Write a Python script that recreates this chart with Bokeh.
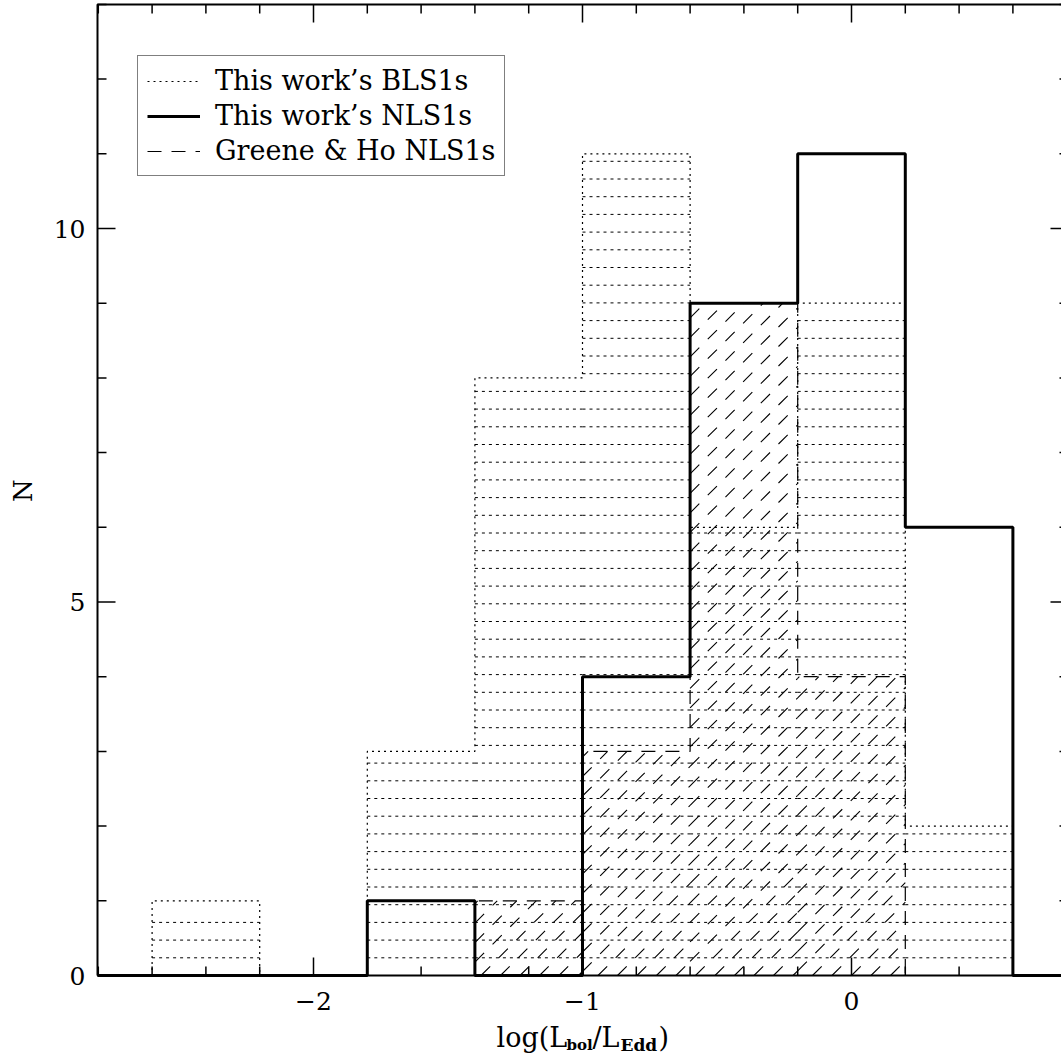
import numpy as np
from bokeh.plotting import figure
from bokeh.models import Range1d, Legend, LegendItem
from bokeh.core.properties import value
from bokeh.embed import file_html
from bokeh.resources import INLINE

# ---------------- data ----------------
bin_edges = [-2.6, -2.2, -1.8, -1.4, -1.0, -0.6, -0.2, 0.2, 0.6]
bls1_counts = [1, 0, 3, 8, 11, 6, 9, 2]        # This work's BLS1s (dotted)
nls1_counts = [0, 0, 1, 0, 4, 9, 11, 6]        # This work's NLS1s (solid)
gh_nls1_counts = [0, 0, 0, 1, 3, 9, 4, 0]      # Greene & Ho NLS1s (dashed)
series_names = ["This work\u2019s BLS1s", "This work\u2019s NLS1s", "Greene & Ho NLS1s"]

x_ticks = [-2, -1, 0]
x_tick_labels = ["\u22122", "\u22121", "0"]
y_ticks = [0, 5, 10]
y_tick_labels = ["0", "5", "10"]
x_label_parts = ["log(L", "bol", "/L", "Edd", ")"]
y_label = "N"

# ---------------- layout constants (pixels of the 1061 x 1059 page) ----------------
W, H = 1061, 1059
BOX_L, BOX_T, BOX_B, BOX_R = 97, 4, 975, 1068   # plotting box; right side lies just outside the page
PX_X0, PX_PER_X = 313.0, 269.0                  # pixel of x = -2, pixels per unit
PX_PER_Y = 74.7
TXT_DY = 10                                     # baseline correction of text glyphs (px)

FONT = "DejaVu Serif"


def px_to_x(px):
    return -2.0 + (px - PX_X0) / PX_PER_X


def px_to_y(py):
    return (BOX_B - py) / PX_PER_Y


# the frame covers the whole page so that every text can be drawn inside it
X_LO, X_HI = px_to_x(0), px_to_x(W)
Y_LO, Y_HI = px_to_y(H), px_to_y(0)
XB_L, XB_R = px_to_x(BOX_L), px_to_x(BOX_R)
YB_T = px_to_y(BOX_T)


# ---------------- helpers ----------------
def step_path(edges, counts, lo, hi):
    xs = [lo, edges[0]]
    ys = [0, 0]
    for i, c in enumerate(counts):
        xs += [edges[i], edges[i + 1]]
        ys += [c, c]
    xs += [edges[-1], hi]
    ys += [0, 0]
    return xs, ys


H_STEP = 17.7 / PX_PER_Y  # spacing of horizontal hatch lines


def horiz_hatch(edges, counts):
    x0, y0, x1, y1 = [], [], [], []
    for i, c in enumerate(counts):
        if c <= 0:
            continue
        for yy in np.arange(H_STEP, c - 0.06, H_STEP):
            x0.append(edges[i]); x1.append(edges[i + 1])
            y0.append(yy); y1.append(yy)
    return x0, y0, x1, y1


SLOPE = PX_PER_X / PX_PER_Y   # 45 degrees on screen
DX = 19.5 / PX_PER_X          # horizontal spacing of diagonal hatch lines


def diag_hatch(edges, counts):
    x0, y0, x1, y1 = [], [], [], []
    for i, c in enumerate(counts):
        if c <= 0:
            continue
        a, b = edges[i], edges[i + 1]
        start = np.floor((a - c / SLOPE) / DX) * DX
        for cc in np.arange(start, b, DX):
            xs = max(a, cc)
            xe = min(b, cc + c / SLOPE)
            if xe - xs > 1e-6:
                x0.append(xs); y0.append(SLOPE * (xs - cc))
                x1.append(xe); y1.append(SLOPE * (xe - cc))
    return x0, y0, x1, y1


# ---------------- figure ----------------
p = figure(width=W, height=H,
           x_range=Range1d(X_LO, X_HI), y_range=Range1d(Y_LO, Y_HI),
           x_axis_location=None, y_axis_location=None,
           output_backend="svg", toolbar_location=None,
           min_border_left=0, min_border_right=0,
           min_border_top=0, min_border_bottom=0)
p.xgrid.visible = False
p.ygrid.visible = False
p.outline_line_color = None
p.background_fill_color = "white"
p.border_fill_color = "white"

# hatching
hx0, hy0, hx1, hy1 = horiz_hatch(bin_edges, bls1_counts)
p.segment(hx0, hy0, hx1, hy1, line_color="black", line_width=1, line_dash="3 4")
dx0, dy0, dx1, dy1 = diag_hatch(bin_edges, gh_nls1_counts)
p.segment(dx0, dy0, dx1, dy1, line_color="black", line_width=1.1, line_dash="13 12")

# outlines
bx, by = step_path(bin_edges, bls1_counts, XB_L, XB_R)
r_bls1 = p.line(bx, by, line_color="black", line_width=1.2, line_dash="2 4")
gx, gy = step_path(bin_edges, gh_nls1_counts, XB_L, XB_R)
r_gh = p.line(gx, gy, line_color="black", line_width=1.2, line_dash="14 10")

# plotting box (left, top, bottom sides)
p.line([XB_L, XB_L, XB_R], [0, YB_T, YB_T], line_color="black", line_width=2)
p.line([XB_L, XB_R], [0, 0], line_color="black", line_width=2)

nx, ny = step_path(bin_edges, nls1_counts, XB_L, XB_R)
r_nls1 = p.line(nx, ny, line_color="black", line_width=3)

# inward ticks on all four sides
x_minor = [float(v) for v in np.round(np.arange(-2.8, 0.81, 0.2), 1)]
y_minor = list(range(0, 14))
x_minor_only = [v for v in x_minor if v not in x_ticks]
y_minor_only = [v for v in y_minor if v not in y_ticks and v > 0]
tick_kw = dict(length_units="screen", line_color="black", line_width=1.5)
p.ray(x=x_ticks, y=[0] * len(x_ticks), length=18, angle=np.pi / 2, **tick_kw)
p.ray(x=x_minor_only, y=[0] * len(x_minor_only), length=9, angle=np.pi / 2, **tick_kw)
p.ray(x=x_ticks, y=[YB_T] * len(x_ticks), length=18, angle=-np.pi / 2, **tick_kw)
p.ray(x=x_minor_only, y=[YB_T] * len(x_minor_only), length=9, angle=-np.pi / 2, **tick_kw)
p.ray(x=[XB_L] * len(y_ticks), y=y_ticks, length=18, angle=0, **tick_kw)
p.ray(x=[XB_L] * len(y_minor_only), y=y_minor_only, length=9, angle=0, **tick_kw)
p.ray(x=[XB_R] * len(y_ticks), y=y_ticks, length=18, angle=np.pi, **tick_kw)
p.ray(x=[XB_R] * len(y_minor_only), y=y_minor_only, length=9, angle=np.pi, **tick_kw)

# tick labels
p.text(x=x_ticks, y=[px_to_y(1010 - TXT_DY)] * len(x_ticks), text=x_tick_labels,
       text_font=value(FONT), text_font_size="25px", text_color="black",
       text_align="center", text_baseline="alphabetic")
p.text(x=[px_to_x(85)] * len(y_ticks), y=y_ticks, text=y_tick_labels,
       text_font=value(FONT), text_font_size="25px", text_color="black",
       text_align="right", text_baseline="middle")

# axis titles
p.text(x=[px_to_x(22)], y=[px_to_y(490)], text=[y_label], angle=np.pi / 2,
       text_font=value(FONT), text_font_size="26px", text_color="black",
       text_align="center", text_baseline="middle")

lab_x = [496, 566, 592, 620, 658]
lab_y = [1047, 1054, 1047, 1054, 1047]
lab_size = ["27px", "15px", "27px", "17px", "27px"]
lab_style = ["normal", "bold", "normal", "bold", "normal"]
for txt, sx, sy, fs, st in zip(x_label_parts, lab_x, lab_y, lab_size, lab_style):
    p.text(x=[px_to_x(sx)], y=[px_to_y(sy - TXT_DY)], text=[txt],
           text_font=value(FONT), text_font_size=fs, text_font_style=st,
           text_color="black", text_align="left", text_baseline="alphabetic")

# legend
legend = Legend(items=[LegendItem(label=series_names[0], renderers=[r_bls1]),
                       LegendItem(label=series_names[1], renderers=[r_nls1]),
                       LegendItem(label=series_names[2], renderers=[r_gh])],
                location=(137, H - 176), orientation="vertical")
legend.border_line_color = "black"
legend.border_line_width = 1.5
legend.background_fill_color = "white"
legend.background_fill_alpha = 1.0
legend.label_text_font = FONT
legend.label_text_font_size = "27px"
legend.label_text_color = "black"
legend.glyph_width = 53
legend.glyph_height = 26
legend.label_height = 26
legend.label_standoff = 15
legend.padding = 9
legend.spacing = 4
legend.margin = 0
p.add_layout(legend)

open("out.html", "w").write(file_html(p, INLINE))
